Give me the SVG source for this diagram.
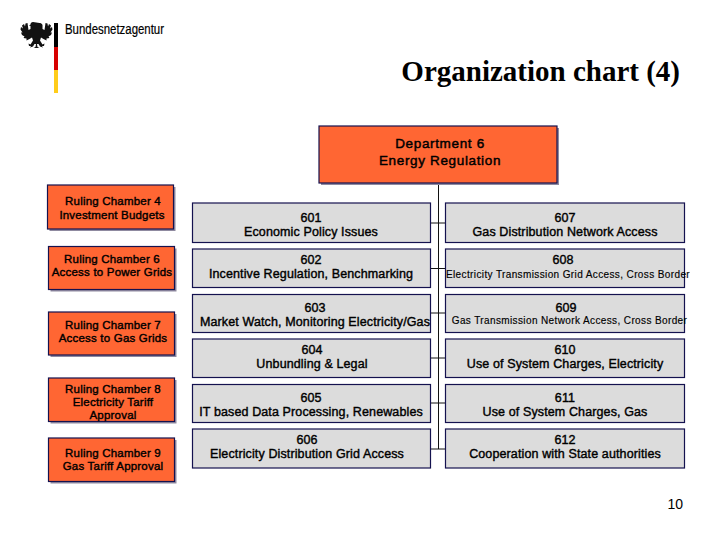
<svg xmlns="http://www.w3.org/2000/svg" width="720" height="540" viewBox="0 0 720 540">
<style>
text{font-family:"Liberation Sans",Arial,sans-serif;font-size:12.500px;letter-spacing:.12px;stroke:#000;stroke-width:.4px;fill:#000;text-anchor:middle}
.dp{font-size:13.500px;letter-spacing:.65px;stroke-width:.45px}
.small{font-size:10px;letter-spacing:.38px;stroke-width:.15px}
.rc{font-size:11.500px;letter-spacing:.2px}
.or{fill:#ff6633;stroke:#14124f;stroke-width:1.2}
.gr{fill:#dcdcdc;stroke:#14124f;stroke-width:1.2}
.sh{fill:#8f8aa0}
#connectors path{fill:none;stroke:#111;stroke-width:1}
</style>
<rect width="720" height="540" fill="#fff"/>
<g id="logo">
<path fill="#111" d="M33 22c-1.500 0-2.500 1-2.500 2.500l-1.500 1 1.500.5 0 3-2 1-1-7-2 .5-.5 3-1-2.500-2 1.500 1 3-2-1.500-.5 2.500 2 3-1.500 0 1 2.500 2.500 1.500-1 1.500 3 .5 0 2 3-1.500 2.500-1.500 1 3-2.500 4-2-1 .5 2.500h2l-1 1.500 3-1 1.500-2.500 1.500 0-.5 3-2 1h6l-2-1-.5-3 1.500 0 1.500 2.500 3 1-1-1.500h2l.5-2.500-2 1-2.500-4 1-3 2.500 1.500 3 1.500 0-2 3-.5-1-1.500 2.500-1.500 1-2.500-1.500 0 2-3-.5-2.500-2 1.500 1-3-2-1.500-1 2.500-.5-3-2-.5-1 7-2-1 0-4c-.5-1.500-2-2-3-2z"/>
<rect x="54" y="23" width="4" height="24" fill="#000"/>
<rect x="54" y="47" width="4" height="23" fill="#d80000"/>
<rect x="54" y="70" width="4" height="23" fill="#ffcc1a"/>
<text x="65" y="33.500" style="text-anchor:start;font-size:14px;letter-spacing:0;stroke-width:.2px" textLength="99" lengthAdjust="spacingAndGlyphs">Bundesnetzagentur</text>
</g>
<text id="title" x="680" y="81" style="font-family:'Liberation Serif',serif;font-size:29px;font-weight:bold;letter-spacing:0;stroke-width:0;text-anchor:end">Organization chart (4)</text>
<g id="connectors">
<path d="M438.500 184V449M431 223H445M431 268.500H445M431 313H445M431 358H445M431 403H445M431 449H445"/>
</g>
<g id="dept"><rect class="sh" x="321" y="128" width="238" height="57"/><rect class="or" x="319" y="126" width="238" height="57"/><text class="dp" x="440" y="148">Department 6</text><text class="dp" x="440" y="165">Energy Regulation</text></g>
<g id="rc4"><rect class="sh" x="49.500" y="187" width="126" height="44"/><rect class="or" x="47.500" y="185" width="126" height="44"/><text class="rc" x="113" y="205">Ruling Chamber 4</text><text class="rc" x="112" y="219">Investment Budgets</text></g>
<g id="rc6"><rect class="sh" x="50.500" y="248.500" width="126" height="43"/><rect class="or" x="48.500" y="246.500" width="126" height="43"/><text class="rc" x="112" y="263">Ruling Chamber 6</text><text class="rc" x="112" y="276">Access to Power Grids</text></g>
<g id="rc7"><rect class="sh" x="50.500" y="314" width="126" height="43"/><rect class="or" x="48.500" y="312" width="126" height="43"/><text class="rc" x="113" y="329">Ruling Chamber 7</text><text class="rc" x="113" y="342">Access to Gas Grids</text></g>
<g id="rc8"><rect class="sh" x="50.500" y="380" width="126" height="43.500"/><rect class="or" x="48.500" y="378" width="126" height="43.500"/><text class="rc" x="113" y="393">Ruling Chamber 8</text><text class="rc" x="113" y="406">Electricity Tariff</text><text class="rc" x="113" y="419">Approval</text></g>
<g id="rc9"><rect class="sh" x="50.500" y="440" width="126" height="43.500"/><rect class="or" x="48.500" y="438" width="126" height="43.500"/><text class="rc" x="113" y="457">Ruling Chamber 9</text><text class="rc" x="113" y="470">Gas Tariff Approval</text></g>
<g id="n601"><rect class="gr" x="192.500" y="203" width="238" height="39.500"/><text x="311" y="222">601</text><text x="311" y="236">Economic Policy Issues</text></g>
<g id="n602"><rect class="gr" x="192.500" y="249" width="238" height="38.500"/><text x="311" y="264">602</text><text x="311" y="278">Incentive Regulation, Benchmarking</text></g>
<g id="n603"><rect class="gr" x="192.500" y="294.500" width="238" height="38"/><text x="315" y="312">603</text><text x="315" y="326">Market Watch, Monitoring Electricity/Gas</text></g>
<g id="n604"><rect class="gr" x="192.500" y="339" width="238" height="38.500"/><text x="312" y="354">604</text><text x="312" y="368">Unbundling &amp; Legal</text></g>
<g id="n605"><rect class="gr" x="192.500" y="384.500" width="238" height="38"/><text x="311" y="402">605</text><text x="311" y="416">IT based Data Processing, Renewables</text></g>
<g id="n606"><rect class="gr" x="192.500" y="429" width="238" height="39"/><text x="307" y="444">606</text><text x="307" y="458">Electricity Distribution Grid Access</text></g>
<g id="n607"><rect class="gr" x="445.500" y="203" width="239" height="39.500"/><text x="565" y="222">607</text><text x="565" y="236">Gas Distribution Network Access</text></g>
<g id="n608"><rect class="gr" x="445.500" y="249" width="239" height="38.500"/><text x="563" y="264">608</text><text class="small" x="568" y="278">Electricity Transmission Grid Access, Cross Border</text></g>
<g id="n609"><rect class="gr" x="445.500" y="294.500" width="239" height="38"/><text x="566" y="312">609</text><text class="small" x="569.500" y="324">Gas Transmission Network Access, Cross Border</text></g>
<g id="n610"><rect class="gr" x="445.500" y="339" width="239" height="38.500"/><text x="565" y="354">610</text><text x="565" y="368">Use of System Charges, Electricity</text></g>
<g id="n611"><rect class="gr" x="445.500" y="384.500" width="239" height="38"/><text x="565" y="402">611</text><text x="565" y="416">Use of System Charges, Gas</text></g>
<g id="n612"><rect class="gr" x="445.500" y="429" width="239" height="39"/><text x="565" y="444">612</text><text x="565" y="458">Cooperation with State authorities</text></g>
<text id="page" x="683" y="509" style="font-size:14px;letter-spacing:0;stroke-width:0;text-anchor:end">10</text>
</svg>
